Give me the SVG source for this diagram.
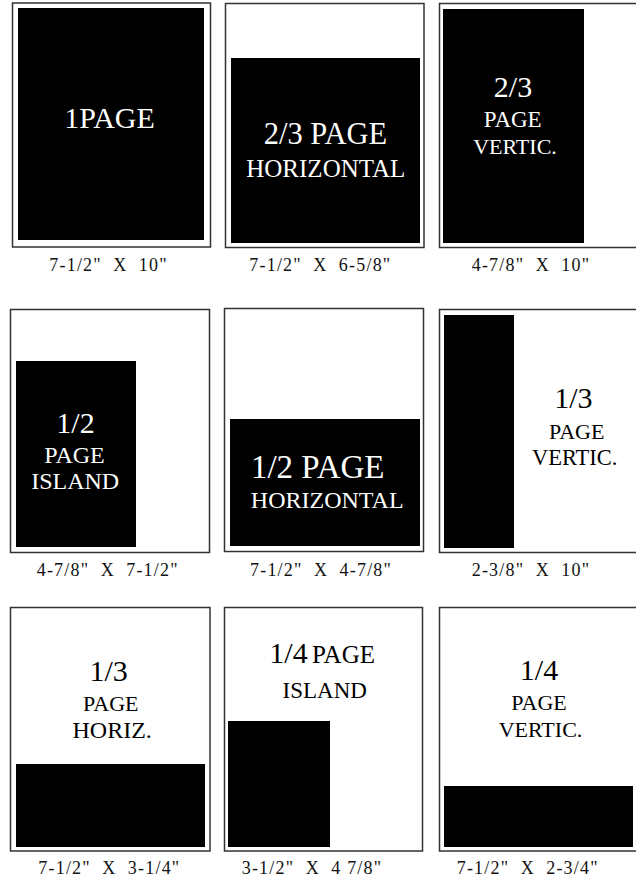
<svg xmlns="http://www.w3.org/2000/svg" width="636" height="879" viewBox="0 0 636 879">
<style>
.frame{fill:#fff;stroke:#333;stroke-width:1.5}
.ad{fill:#000}
.t{font-family:"Liberation Serif","Times New Roman",serif;text-anchor:middle}
.w{fill:#fff}
.b{fill:#000}
.lab{font-family:"Liberation Serif","Times New Roman",serif;font-size:18px;letter-spacing:1.2px;fill:#111;white-space:pre}
</style>
<rect width="636" height="879" fill="#fff"/>
<g id="connectors"/>
<g id="p1">
<rect class="frame" x="12.5" y="3" width="198" height="244"/>
<rect class="ad" x="18" y="8" width="186" height="232"/>
<text class="t w" x="109.5" y="128.3" font-size="30">1PAGE</text>
<text class="lab" x="49.3" y="270.5" xml:space="preserve">7-1/2"  X  10"</text>
</g>
<g id="p2">
<rect class="frame" x="225.5" y="3.5" width="198.5" height="244"/>
<rect class="ad" x="231" y="58" width="189" height="185"/>
<text class="t w" x="325.5" y="144.3" font-size="30.5">2/3 PAGE</text>
<text class="t w" x="325.8" y="176.7" font-size="25">HORIZONTAL</text>
<text class="lab" x="249.3" y="270.5" xml:space="preserve">7-1/2"  X  6-5/8"</text>
</g>
<g id="p3">
<rect class="frame" x="439.5" y="3.5" width="210" height="244"/>
<rect class="ad" x="443" y="9" width="141" height="234"/>
<text class="t w" x="513" y="97" font-size="30">2/3</text>
<text class="t w" x="512.7" y="126.7" font-size="23">PAGE</text>
<text class="t w" x="515" y="154" font-size="22">VERTIC.</text>
<text class="lab" x="471.7" y="270.5" xml:space="preserve">4-7/8"  X  10"</text>
</g>
<g id="p4">
<rect class="frame" x="10.5" y="309.5" width="199" height="243"/>
<rect class="ad" x="16" y="361" width="120" height="186"/>
<text class="t w" x="75.5" y="432.7" font-size="30">1/2</text>
<text class="t w" x="74.5" y="462.7" font-size="24">PAGE</text>
<text class="t w" x="75.2" y="489" font-size="24">ISLAND</text>
<text class="lab" x="36.7" y="575.5" xml:space="preserve">4-7/8"  X  7-1/2"</text>
</g>
<g id="p5">
<rect class="frame" x="224.5" y="308.5" width="199" height="243"/>
<rect class="ad" x="230" y="419" width="190" height="127"/>
<text class="t w" x="317.7" y="478.3" font-size="33">1/2 PAGE</text>
<text class="t w" x="327.2" y="508.3" font-size="24">HORIZONTAL</text>
<text class="lab" x="250" y="575.5" xml:space="preserve">7-1/2"  X  4-7/8"</text>
</g>
<g id="p6">
<rect class="frame" x="439.5" y="309.5" width="210" height="243"/>
<rect class="ad" x="444" y="315" width="70" height="233"/>
<text class="t b" x="573.3" y="408.3" font-size="30">1/3</text>
<text class="t b" x="576.7" y="439.3" font-size="22">PAGE</text>
<text class="t b" x="574.7" y="465" font-size="22.5">VERTIC.</text>
<text class="lab" x="471.7" y="575.5" xml:space="preserve">2-3/8"  X  10"</text>
</g>
<g id="p7">
<rect class="frame" x="10.5" y="607.5" width="199.5" height="243.5"/>
<rect class="ad" x="16" y="764" width="189" height="83"/>
<text class="t b" x="108.7" y="681" font-size="30">1/3</text>
<text class="t b" x="110.8" y="711" font-size="22">PAGE</text>
<text class="t b" x="112.2" y="737.7" font-size="24">HORIZ.</text>
<text class="lab" x="38.3" y="874" xml:space="preserve">7-1/2"  X  3-1/4"</text>
</g>
<g id="p8">
<rect class="frame" x="224.5" y="607.5" width="198" height="243.5"/>
<rect class="ad" x="228" y="721" width="102" height="126"/>
<text class="b" font-family="Liberation Serif, Times New Roman, serif" y="663.3"><tspan x="269.3" font-size="30">1/4</tspan><tspan x="312" font-size="25">PAGE</tspan></text>
<text class="t b" x="324.7" y="697.7" font-size="23">ISLAND</text>
<text class="lab" x="241.7" y="874" xml:space="preserve">3-1/2"  X  4 7/8"</text>
</g>
<g id="p9">
<rect class="frame" x="439.5" y="607.5" width="210" height="243.5"/>
<rect class="ad" x="444" y="786" width="189" height="61"/>
<text class="t b" x="539" y="680" font-size="30">1/4</text>
<text class="t b" x="539" y="710" font-size="22">PAGE</text>
<text class="t b" x="540.5" y="736.7" font-size="22">VERTIC.</text>
<text class="lab" x="456.7" y="874" xml:space="preserve">7-1/2"  X  2-3/4"</text>
</g>
</svg>
